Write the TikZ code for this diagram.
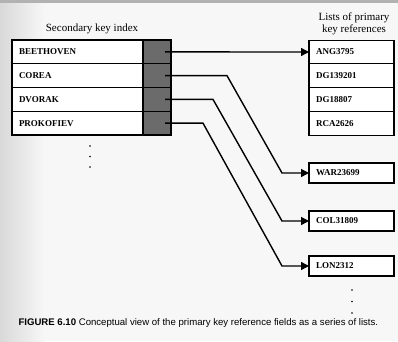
\documentclass[tikz,border=0pt]{standalone}
\usepackage{fontspec}
\setmainfont{Liberation Serif}
\setsansfont{Liberation Sans}
\usetikzlibrary{arrows.meta,positioning,calc}

\begin{document}
\begin{tikzpicture}[x=1pt, y=-1pt,
    keycell/.style={rectangle, draw, line width=1.2pt, outer sep=0pt, fill=white, minimum height=23.75pt, minimum width=131pt, text width=117pt, inner xsep=7pt, inner ysep=0pt, align=left, font=\fontsize{9}{10}\selectfont\bfseries},
    ptrcell/.style={rectangle, draw, line width=1.2pt, outer sep=0pt, fill=black!58, minimum height=23.75pt, minimum width=28pt},
    refcell/.style={keycell, minimum width=85pt, text width=71pt},
    refbox/.style={refcell, minimum height=20pt, line width=1.7pt},
    arrow/.style={-{Triangle[length=8pt, width=8pt]}, line width=1.4pt},
    title/.style={align=center, font=\fontsize{11}{12}\selectfont},
    dot/.style={circle, fill, inner sep=0.6pt}
]
\useasboundingbox (0,0) rectangle (398,341);
\fill[gray!6] (0,0) rectangle (398,341);
\shade[left color=gray!30, right color=gray!6] (0,3) rectangle (45,341);
\fill[gray!60] (0,0) rectangle (398,3);

% secondary key index
\node[title] (sectitle) at (92,29) {Secondary key index};
\node[keycell] (beet) at (77.5,51.9) {BEETHOVEN};
\node[keycell, below=0pt of beet] (corea) {COREA};
\node[keycell, below=0pt of corea] (dvorak) {DVORAK};
\node[keycell, below=0pt of dvorak] (prok) {PROKOFIEV};
\node[ptrcell, right=0pt of beet] (p1) {};
\node[ptrcell, right=0pt of corea] (p2) {};
\node[ptrcell, right=0pt of dvorak] (p3) {};
\node[ptrcell, right=0pt of prok] (p4) {};
\foreach \y [count=\i] in {146,156.5,167}
    \node[dot] (ldot\i) at (90,\y) {};

% lists of primary key references
\node[title] (primtitle) at (354,24) {Lists of primary\\key references};
\node[refcell] (ang) at (351.5,52) {ANG3795};
\node[refcell, below=0pt of ang] (dg1) {DG139201};
\node[refcell, below=0pt of dg1] (dg2) {DG18807};
\node[refcell, below=0pt of dg2] (rca) {RCA2626};
\node[refbox] (war) at (351.5,173) {WAR23699};
\node[refbox] (col) at (351.5,221) {COL31809};
\node[refbox] (lon) at (351.5,266) {LON2312};
\foreach \y [count=\i] in {290,301.5,313}
    \node[dot] (rdot\i) at (352,\y) {};

\draw[arrow] ([xshift=8pt]p1.center) -- (ang.west);
\draw[arrow] ([xshift=8pt]p2.center) -- ++(62,0) -- ([xshift=-27pt]war.west) -- (war.west);
\draw[arrow] ([xshift=8pt]p3.center) -- ++(48,0) -- ([xshift=-27pt]col.west) -- (col.west);
\draw[arrow] ([xshift=8pt]p4.center) -- ++(38,0) -- ([xshift=-27pt]lon.west) -- (lon.west);

\node[anchor=base west, font=\sffamily\fontsize{9.6}{11}\selectfont] (caption) at (15,325)
    {\textbf{FIGURE 6.10} Conceptual view of the primary key reference fields as a series of lists.};
\end{tikzpicture}
\end{document}
